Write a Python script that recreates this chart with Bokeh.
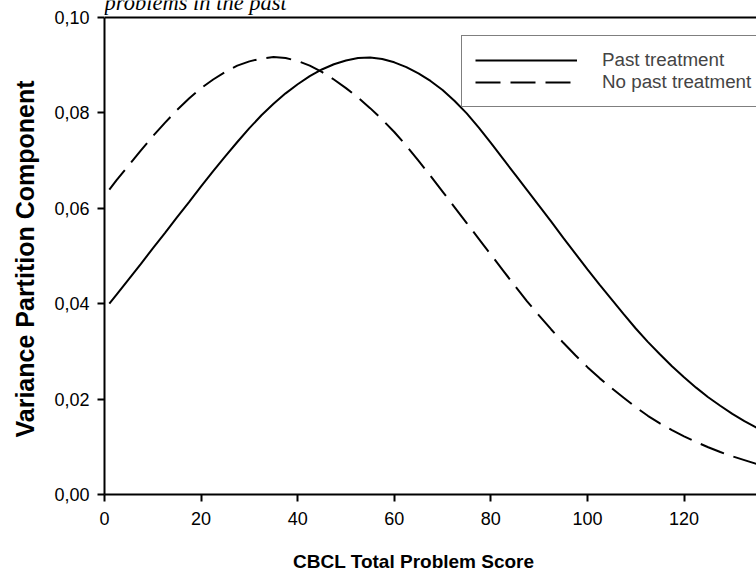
from bokeh.plotting import figure
from bokeh.layouts import column
from bokeh.models import FixedTicker, Span, Label, Legend, LegendItem, Title
from bokeh.embed import file_html
from bokeh.resources import INLINE

# CBCL total problem score (x) and the variance partition component for each group
scores = [1, 2.5, 5, 7.5, 10, 12.5, 15, 17.5, 20, 22.5, 25, 27.5, 30, 32.5, 35, 37.5,
          40, 42.5, 45, 47.5, 50, 52.5, 55, 57.5, 60, 62.5, 65, 67.5, 70, 72.5, 75,
          77.5, 80, 82.5, 85, 87.5, 90, 92.5, 95, 97.5, 100, 102.5, 105, 107.5, 110,
          112.5, 115, 117.5, 120, 122.5, 125, 127.5, 130, 132.5, 135, 137.5, 140]
past_treatment = [0.0400, 0.0419, 0.0451, 0.0483, 0.0516, 0.0548, 0.0581, 0.0613,
                  0.0646, 0.0678, 0.0709, 0.0739, 0.0768, 0.0795, 0.0819, 0.0841,
                  0.0860, 0.0877, 0.0891, 0.0902, 0.0910, 0.0915, 0.0916, 0.0913,
                  0.0906, 0.0896, 0.0883, 0.0867, 0.0848, 0.0825, 0.0799, 0.0769,
                  0.0737, 0.0704, 0.0671, 0.0638, 0.0605, 0.0572, 0.0538, 0.0505,
                  0.0472, 0.0440, 0.0409, 0.0378, 0.0348, 0.0320, 0.0294, 0.0269,
                  0.0246, 0.0224, 0.0204, 0.0186, 0.0169, 0.0154, 0.0140, 0.0128,
                  0.0117]
no_past_treatment = [0.0639, 0.0659, 0.0690, 0.0721, 0.0751, 0.0779, 0.0806, 0.0830,
                     0.0852, 0.0870, 0.0886, 0.0899, 0.0908, 0.0914, 0.0917, 0.0915,
                     0.0909, 0.0899, 0.0886, 0.0870, 0.0852, 0.0832, 0.0810, 0.0786,
                     0.0760, 0.0731, 0.0700, 0.0668, 0.0635, 0.0602, 0.0569, 0.0536,
                     0.0503, 0.0470, 0.0437, 0.0405, 0.0375, 0.0346, 0.0318, 0.0292,
                     0.0267, 0.0244, 0.0223, 0.0203, 0.0183, 0.0165, 0.0149, 0.0135,
                     0.0122, 0.0110, 0.0099, 0.0089, 0.0080, 0.0072, 0.0064, 0.0057,
                     0.0051]

x_ticks = [0, 20, 40, 60, 80, 100, 120, 140]
y_ticks = [0.0, 0.02, 0.04, 0.06, 0.08, 0.10]
y_tick_labels = ["0,00", "0,02", "0,04", "0,06", "0,08", "0,10"]

SANS = "Liberation Sans"
Y_TOP = 0.10
# the frame runs up to the top of the canvas so the caption above the box can sit inside it
Y_VIEW_TOP = Y_TOP * 494 / 477
FRAME_LEFT = 104

p = figure(width=756, height=539, x_range=(0, 135), y_range=(0, Y_VIEW_TOP),
           title=None, output_backend="svg", toolbar_location=None,
           min_border_left=FRAME_LEFT, min_border_right=0,
           min_border_top=0, min_border_bottom=45)
p.outline_line_color = None
p.xgrid.visible = False
p.ygrid.visible = False
p.background_fill_color = "white"
p.border_fill_color = "white"

solid = p.line(scores, past_treatment, line_color="black", line_width=2)
dashed = p.line(scores, no_past_treatment, line_color="black", line_width=2,
                line_dash="25 10")

# top edge of the box
p.add_layout(Span(location=Y_TOP, dimension="width", line_color="black", line_width=2))

for ax in (p.xaxis[0], p.yaxis[0]):
    ax.axis_line_width = 2
    ax.major_tick_line_width = 2
    ax.major_tick_out = 7
    ax.major_tick_in = 0
    ax.minor_tick_out = 0
    ax.minor_tick_in = 0
    ax.major_label_text_font = SANS
    ax.major_label_text_font_size = "18px"
    ax.major_label_text_color = "black"

p.xaxis.ticker = FixedTicker(ticks=x_ticks)
p.xaxis.major_label_standoff = 10

p.yaxis.ticker = FixedTicker(ticks=y_ticks)
p.yaxis.bounds = (0, Y_TOP)
p.yaxis.major_label_overrides = dict(zip(y_ticks, y_tick_labels))
p.yaxis.major_label_standoff = 8

# y-axis caption along the left edge
p.add_layout(Title(text="Variance Partition Component", align="left", offset=57,
                   standoff=21, vertical_align="top", text_font=SANS,
                   text_font_style="bold", text_font_size="25px",
                   text_color="black"), "left")

legend = Legend(items=[LegendItem(label="Past treatment", renderers=[solid]),
                       LegendItem(label="No past treatment", renderers=[dashed])],
                location=(357, 387), padding=13, spacing=0,
                glyph_width=102, glyph_height=22, label_height=22, label_width=175,
                label_standoff=25, margin=0,
                label_text_font=SANS, label_text_font_size="18.8px",
                border_line_color="black", border_line_width=1.5,
                background_fill_color="white", background_fill_alpha=1)
p.add_layout(legend)

p.add_layout(Label(x=0, y=0.1032, text="problems in the past",
                   text_font="Liberation Serif", text_font_style="italic",
                   text_font_size="22.5px", text_baseline="alphabetic",
                   text_color="black"))

# strip below the chart carrying the x-axis caption; its frame lines up with
# the chart frame, so the x range is given in page pixels from that edge
cap = figure(width=756, height=36, x_range=(FRAME_LEFT, 756), y_range=(0, 36),
             title=None, output_backend="svg", toolbar_location=None,
             min_border=0, x_axis_type=None, y_axis_type=None)
cap.outline_line_color = None
cap.background_fill_color = "white"
cap.border_fill_color = "white"
cap.add_layout(Label(x=292.5, y=14.5, text="CBCL Total Problem Score",
                     text_font=SANS, text_font_style="bold", text_font_size="19px",
                     text_align="left", text_baseline="middle", text_color="black"))

layout = column(p, cap, spacing=0)
open("out.html", "w").write(file_html(layout, INLINE))
